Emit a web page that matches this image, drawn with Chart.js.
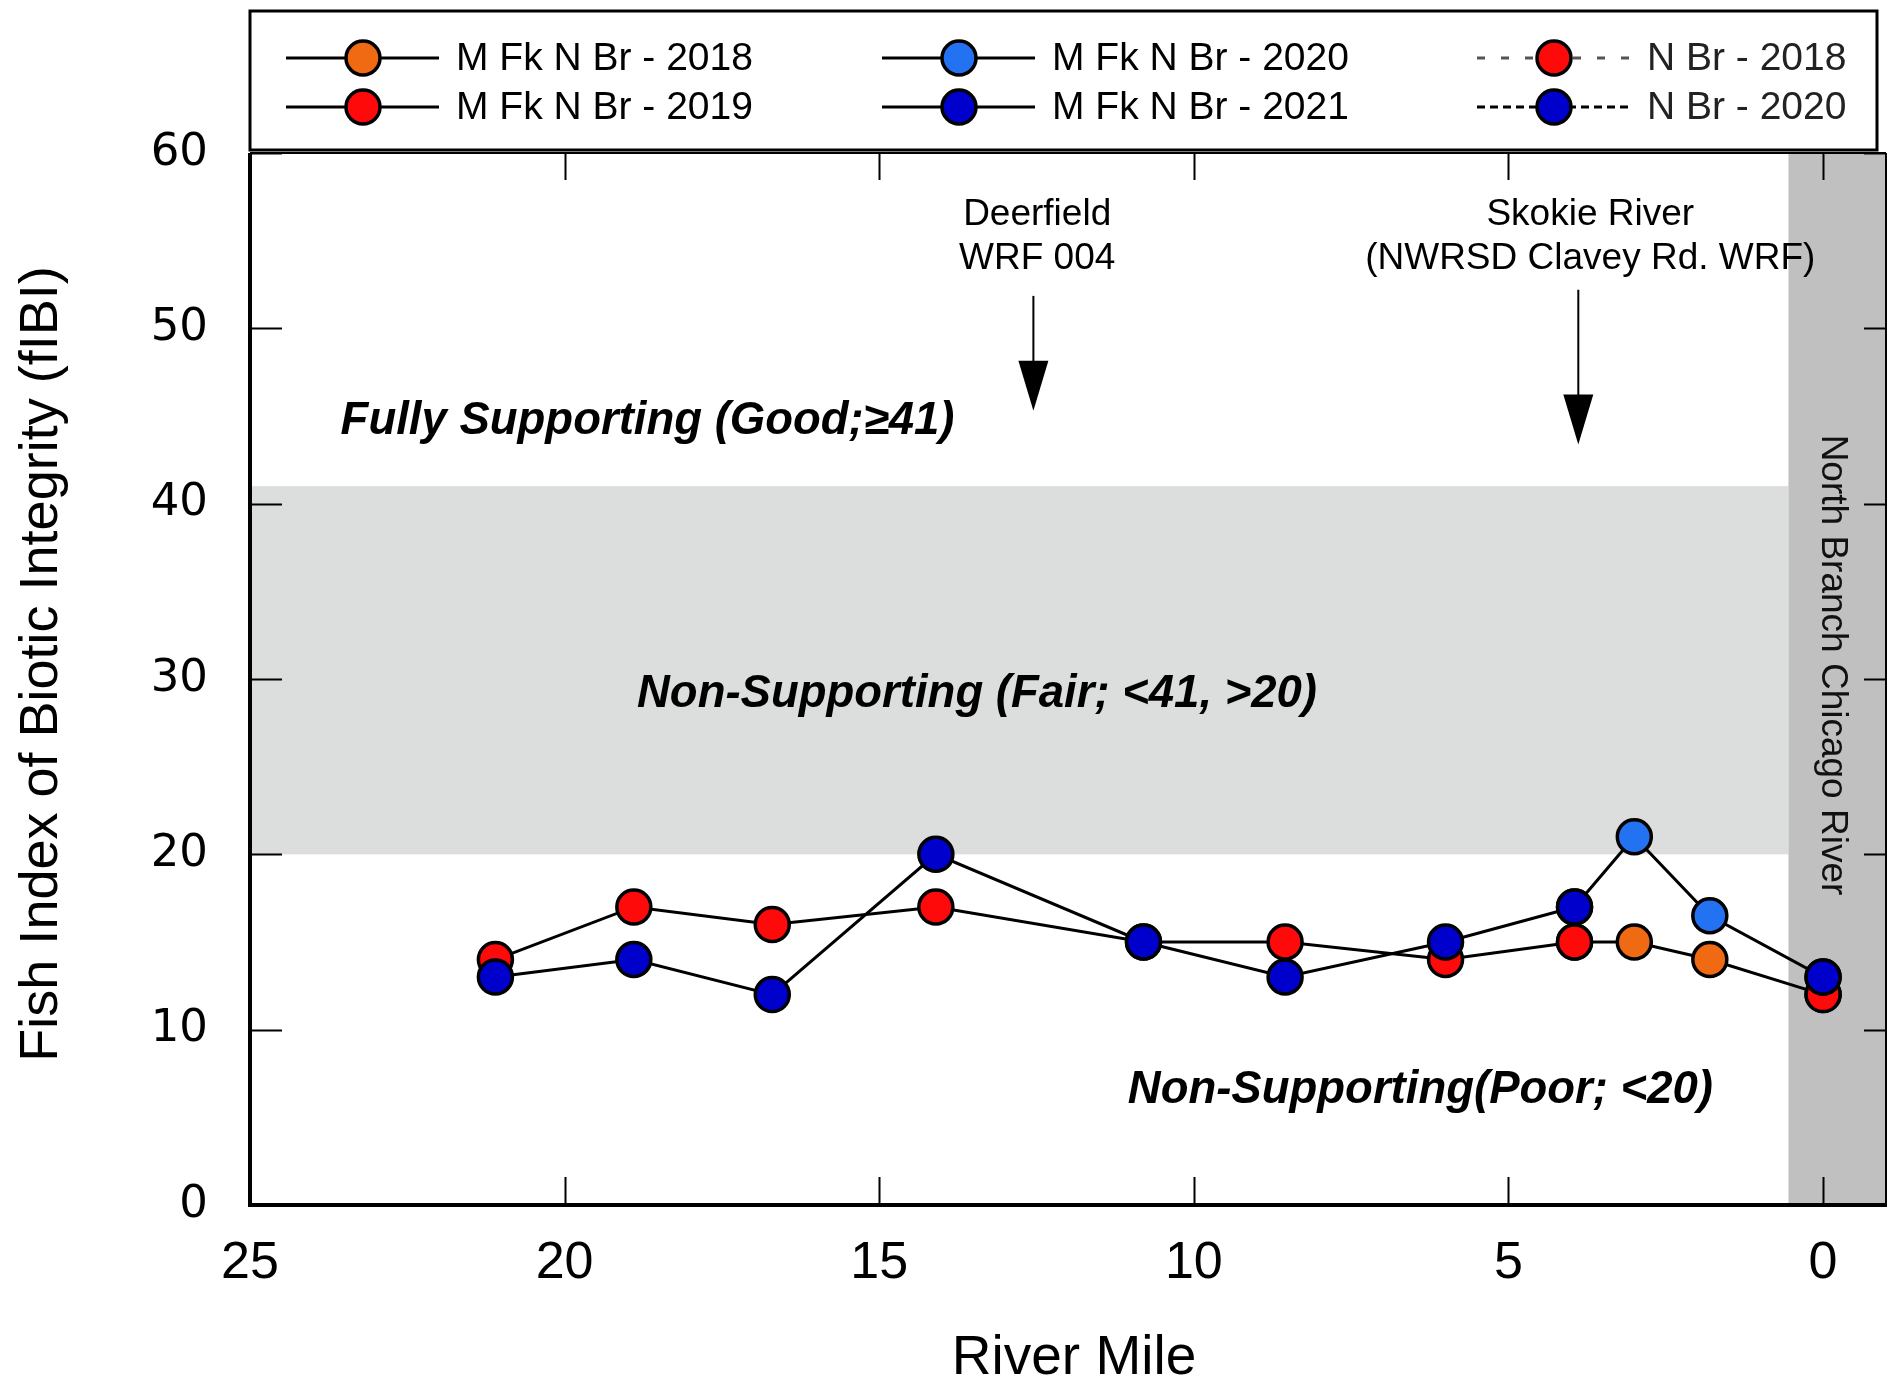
<!DOCTYPE html>
<html>
<head>
<meta charset="utf-8">
<script src="https://cdn.jsdelivr.net/npm/chart.js@4.4.0/dist/chart.umd.min.js"></script>
<style>
html, body { margin: 0; padding: 0; background: #fff; }
#wrap { width: 1895px; height: 1383px; }
</style>
</head>
<body>
<div id="wrap"><canvas id="myChart" width="1895" height="1383"></canvas></div>
<script>
// tick labels
const xTicks = [25, 20, 15, 10, 5, 0];
const yTicks = [0, 10, 20, 30, 40, 50, 60];

// river mile / fIBI per survey
const mfk2018Mile = [3.95, 3.0, 1.8, 0];
const mfk2018Fibi = [15, 15, 14, 12];
const mfk2019Mile = [21.1, 18.9, 16.7, 14.1, 10.8, 8.55, 6.0, 3.95];
const mfk2019Fibi = [14, 17, 16, 17, 15, 15, 14, 15];
const mfk2020Mile = [3.95, 3.0, 1.8, 0];
const mfk2020Fibi = [17, 21, 16.5, 13];
const mfk2021Mile = [21.1, 18.9, 16.7, 14.1, 10.8, 8.55, 6.0, 3.95];
const mfk2021Fibi = [13, 14, 12, 20, 15, 13, 15, 17];
const nbr2018Mile = [0];
const nbr2018Fibi = [12];
const nbr2020Mile = [0];
const nbr2020Fibi = [13];

// classification limits and reaches
const fairBand = [20, 41];
const mainstemStart = 0.55;

const pts = (xs, ys) => xs.map((x, i) => ({ x: x, y: ys[i] }));

function series(label, xs, ys, color, order, dash, dashColor) {
  return {
    label: label,
    data: pts(xs, ys),
    showLine: true,
    borderColor: '#000',
    borderWidth: 3,
    borderDash: dash || [],
    backgroundColor: color,
    pointBackgroundColor: color,
    pointBorderColor: '#000',
    pointBorderWidth: 3.5,
    pointRadius: 17,
    pointHoverRadius: 17,
    tension: 0,
    order: order,
    clip: false,
    legendDash: dash || [],
    legendDashColor: dashColor || '#000'
  };
}

const FONT = '"Liberation Sans", Arial, Helvetica, sans-serif';

const decor = {
  id: 'decor',
  beforeDatasetsDraw(chart) {
    const { ctx, chartArea: a, scales: { x, y } } = chart;
    ctx.save();
    // fair band
    const bx1 = x.getPixelForValue(mainstemStart);
    const fy0 = y.getPixelForValue(fairBand[1]);
    const fy1 = y.getPixelForValue(fairBand[0]);
    ctx.fillStyle = '#dcdddd';
    ctx.fillRect(a.left, fy0, bx1 - a.left, fy1 - fy0);
    // north branch mainstem
    ctx.fillStyle = '#c0c0c0';
    ctx.fillRect(bx1, a.top, a.right - bx1, a.bottom - a.top);

    // inward ticks
    ctx.strokeStyle = '#000';
    ctx.lineWidth = 2;
    ctx.beginPath();
    xTicks.forEach(v => {
      const px = Math.round(x.getPixelForValue(v)) + 0.5;
      ctx.moveTo(px, a.bottom); ctx.lineTo(px, a.bottom - 28);
      ctx.moveTo(px, a.top); ctx.lineTo(px, a.top + 27);
    });
    yTicks.forEach(v => {
      const py = Math.round(y.getPixelForValue(v)) + 0.5;
      ctx.moveTo(a.left, py); ctx.lineTo(a.left + 32, py);
      ctx.moveTo(a.right, py); ctx.lineTo(a.right - 22, py);
    });
    ctx.stroke();

    // frame
    ctx.lineWidth = 2;
    ctx.beginPath();
    ctx.moveTo(a.left, a.top); ctx.lineTo(a.right, a.top);
    ctx.moveTo(a.right, a.top); ctx.lineTo(a.right, a.bottom);
    ctx.stroke();
    ctx.lineWidth = 4;
    ctx.beginPath();
    ctx.moveTo(a.left, a.top); ctx.lineTo(a.left, a.bottom);
    ctx.moveTo(a.left - 2, a.bottom); ctx.lineTo(a.right + 1, a.bottom);
    ctx.stroke();

    // axis titles
    ctx.fillStyle = '#000';
    ctx.textBaseline = 'middle';
    ctx.textAlign = 'center';
    ctx.font = '55px ' + FONT;
    ctx.fillText('River Mile', (a.left + a.right) / 2 + 6, 1359);
    ctx.save();
    ctx.translate(42, (a.top + a.bottom) / 2 - 15);
    ctx.rotate(-Math.PI / 2);
    ctx.font = '54px ' + FONT;
    ctx.fillText('Fish Index of Biotic Integrity (fIBI)', 0, 0);
    ctx.restore();

    // class labels
    ctx.textAlign = 'left';
    ctx.font = 'italic bold 45.5px ' + FONT;
    ctx.fillText('Fully Supporting (Good;\u226541)', x.getPixelForValue(23.56), y.getPixelForValue(44.68));
    ctx.fillText('Non-Supporting (Fair; <41, >20)', x.getPixelForValue(18.85), y.getPixelForValue(29.1));
    ctx.fillText('Non-Supporting(Poor; <20)', x.getPixelForValue(11.05), y.getPixelForValue(6.55));

    // outfall labels
    ctx.font = '37px ' + FONT;
    ctx.textAlign = 'center';
    ctx.fillText('Deerfield', x.getPixelForValue(12.49), y.getPixelForValue(56.47));
    ctx.fillText('WRF 004', x.getPixelForValue(12.49), y.getPixelForValue(53.99));
    ctx.fillText('Skokie River', x.getPixelForValue(3.70), y.getPixelForValue(56.47));
    ctx.fillText('(NWRSD Clavey Rd. WRF)', x.getPixelForValue(3.70), y.getPixelForValue(53.99));

    // arrows
    function arrow(mile, yTop, yTip) {
      const px = x.getPixelForValue(mile);
      const t = y.getPixelForValue(yTop);
      const tip = y.getPixelForValue(yTip);
      ctx.lineWidth = 2;
      ctx.beginPath();
      ctx.moveTo(px, t); ctx.lineTo(px, tip - 40);
      ctx.stroke();
      ctx.beginPath();
      ctx.moveTo(px, tip);
      ctx.lineTo(px - 15, tip - 50);
      ctx.lineTo(px + 15, tip - 50);
      ctx.closePath();
      ctx.fill();
    }
    arrow(12.55, 51.85, 45.3);
    arrow(3.89, 52.2, 43.37);

    // mainstem label
    ctx.save();
    ctx.translate(x.getPixelForValue(-0.14), y.getPixelForValue(30.8));
    ctx.rotate(Math.PI / 2);
    ctx.font = '37px ' + FONT;
    ctx.textAlign = 'center';
    ctx.fillStyle = '#111';
    ctx.fillText('North Branch Chicago River', 0, 0);
    ctx.restore();

    ctx.restore();
  },
  afterDraw(chart) {
    const ctx = chart.ctx;
    ctx.save();
    ctx.strokeStyle = '#000';
    ctx.lineWidth = 3;
    ctx.strokeRect(250, 11, 1627, 139);
    const colX = [286, 882, 1477];
    const rowY = [58, 107];
    ctx.font = '39px ' + FONT;
    ctx.textBaseline = 'middle';
    ctx.textAlign = 'left';
    chart.data.datasets.forEach((ds, i) => {
      const cx = colX[Math.floor(i / 2)];
      const cy = rowY[i % 2];
      ctx.strokeStyle = ds.legendDashColor;
      ctx.lineWidth = 3;
      ctx.setLineDash(ds.legendDash);
      ctx.beginPath();
      ctx.moveTo(cx, cy); ctx.lineTo(cx + 153, cy);
      ctx.stroke();
      ctx.setLineDash([]);
      ctx.beginPath();
      ctx.arc(cx + 77, cy, 17, 0, Math.PI * 2);
      ctx.fillStyle = ds.pointBackgroundColor;
      ctx.fill();
      ctx.lineWidth = 3.5;
      ctx.strokeStyle = '#000';
      ctx.stroke();
      ctx.fillStyle = i >= 4 ? '#222' : '#000';
      ctx.fillText(ds.label, cx + 170, cy + 1);
    });
    ctx.restore();
  }
};

const ctx = document.getElementById('myChart');
const chart = new Chart(ctx, {
  type: 'scatter',
  data: {
    datasets: [
      series('M Fk N Br - 2018', mfk2018Mile, mfk2018Fibi, '#ef6a12', 6),
      series('M Fk N Br - 2019', mfk2019Mile, mfk2019Fibi, '#ff0a0a', 4),
      series('M Fk N Br - 2020', mfk2020Mile, mfk2020Fibi, '#2272f2', 3),
      series('M Fk N Br - 2021', mfk2021Mile, mfk2021Fibi, '#0000cc', 1),
      series('N Br - 2018', nbr2018Mile, nbr2018Fibi, '#ff0a0a', 5, [8, 16], '#555'),
      series('N Br - 2020', nbr2020Mile, nbr2020Fibi, '#0000cc', 2, [8, 5], '#000')
    ]
  },
  options: {
    responsive: false,
    animation: false,
    layout: { autoPadding: false, padding: { top: 153, right: 9, left: 0, bottom: 0 } },
    plugins: { legend: { display: false }, tooltip: { enabled: false } },
    scales: {
      x: {
        type: 'linear',
        reverse: true,
        min: -1,
        max: 25,
        afterBuildTicks: s => { s.ticks = xTicks.map(v => ({ value: v })); },
        afterFit: s => { s.height = 178; s.paddingLeft = 0; s.paddingRight = 0; },
        grid: { display: false, drawTicks: false },
        border: { display: false },
        ticks: { padding: 27, color: '#000', font: { family: FONT, size: 52 } },
        title: { display: false, text: 'River Mile' }
      },
      y: {
        min: 0,
        max: 60,
        afterBuildTicks: s => { s.ticks = yTicks.map(v => ({ value: v })); },
        afterFit: s => { s.width = 250; s.paddingTop = 0; s.paddingBottom = 0; },
        grid: { display: false, drawTicks: false },
        border: { display: false },
        ticks: { padding: 42, color: '#000', font: { family: '"DejaVu Sans", sans-serif', size: 45 } },
        title: { display: false, text: 'Fish Index of Biotic Integrity (fIBI)' }
      }
    }
  },
  plugins: [decor]
});
</script>
</body>
</html>
